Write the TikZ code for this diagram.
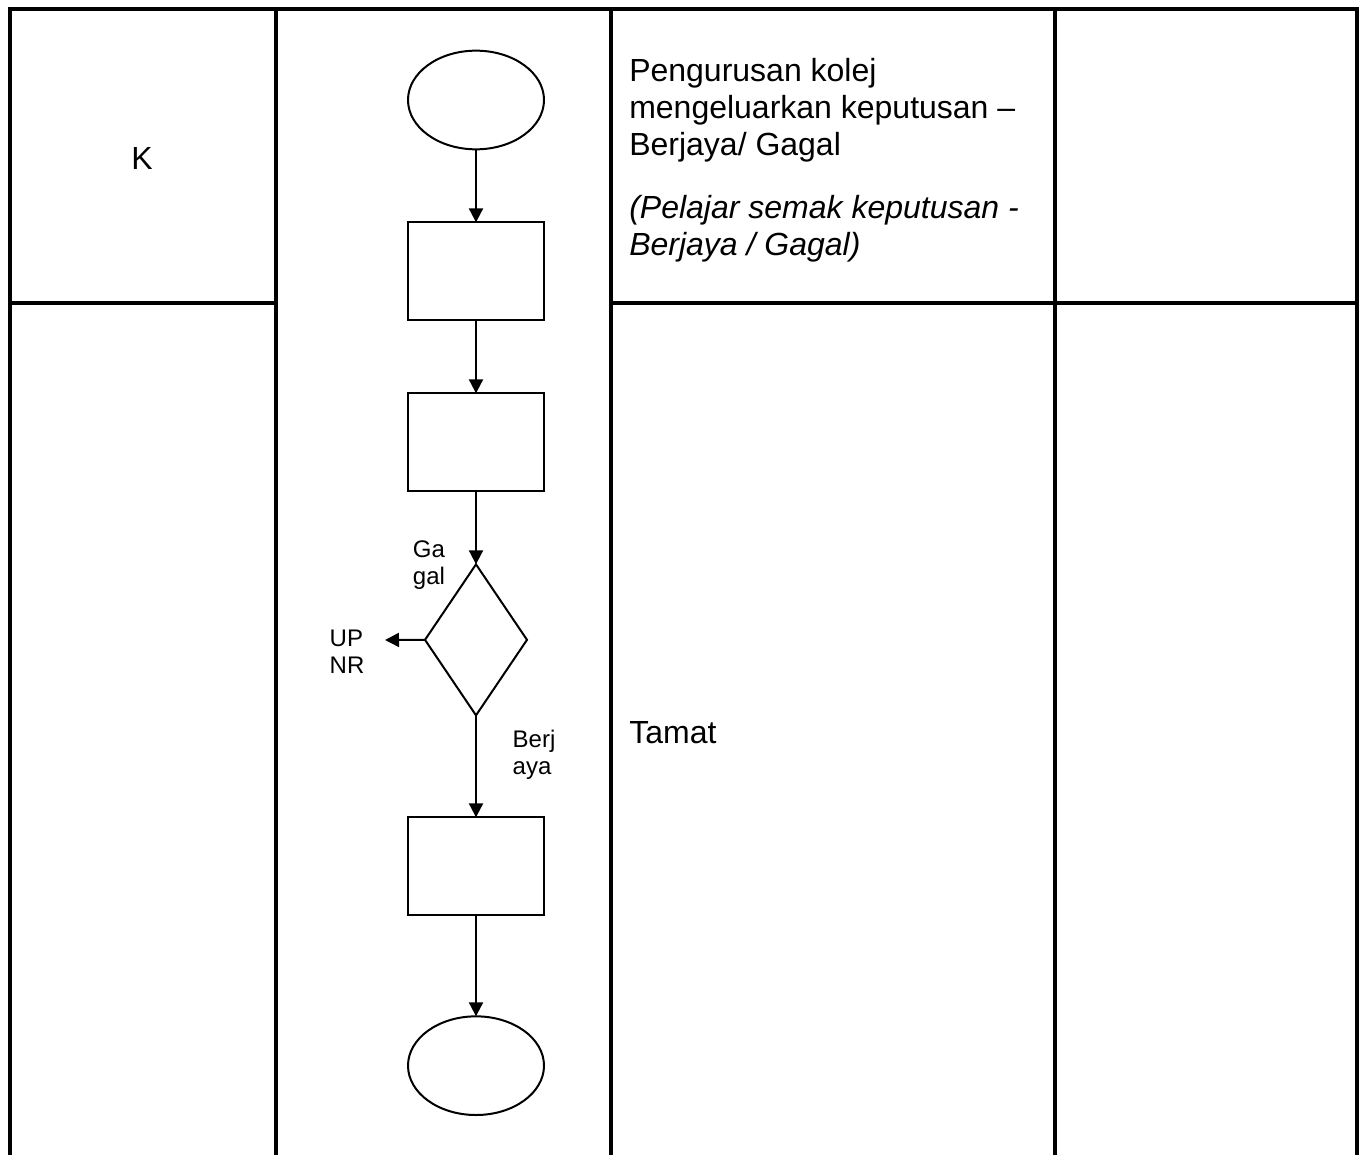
\documentclass[tikz,border=0pt]{standalone}
\usepackage{fontspec}
\setmainfont{Liberation Sans}
\usetikzlibrary{shapes.geometric, arrows.meta, positioning}

\begin{document}
\begin{tikzpicture}[
    x=0.75pt, y=-0.75pt,
    node distance=54.75pt,
    terminal/.style={draw, ellipse, line width=1.5pt, minimum width=102pt, minimum height=74pt, inner sep=0pt, outer sep=0pt},
    process/.style={draw, rectangle, line width=1.5pt, minimum width=102pt, minimum height=73.5pt, inner sep=0pt, outer sep=0pt},
    decision/.style={draw, diamond, line width=1.5pt, minimum width=76.5pt, minimum height=113.25pt, inner sep=0pt, outer sep=0pt},
    arrow/.style={draw, line width=1.5pt, -{Triangle[length=10.5pt, width=10.5pt]}},
    gridline/.style={line width=2.6pt},
    body/.style={inner sep=0pt, align=left, font=\fontsize{24}{27.75}\selectfont},
    tag/.style={inner sep=0pt, align=left, font=\fontsize{18}{20.5}\selectfont}
]
\useasboundingbox (0,0) rectangle (1362,1155);

% table
\draw[gridline] (10,1155) -- (10,9) -- (1357,9) -- (1357,1155);
\draw[gridline] (276,9) -- (276,1155);
\draw[gridline] (611,9) -- (611,1155);
\draw[gridline] (1055,9) -- (1055,1155);
\draw[gridline] (10,303) -- (276,303);
\draw[gridline] (611,303) -- (1357,303);

% flow
\node[terminal] (start) at (476,100) {};
\node[process, below=of start] (semak) {};
\node[process, below=of semak] (keputusan) {};
\node[decision, below=of keputusan] (lulus) {};
\node[process, below=76.5pt of lulus] (berjaya) {};
\node[terminal, below=75.75pt of berjaya] (tamat) {};
\coordinate (upnrtip) at (385,640);

\draw[arrow] (start) -- (semak);
\draw[arrow] (semak) -- (keputusan);
\draw[arrow] (keputusan) -- (lulus);
\draw[arrow] (lulus.west) -- (upnrtip);
\draw[arrow] (lulus) -- (berjaya);
\draw[arrow] (berjaya) -- (tamat);

\node[tag] (gagal) at (429,565) {Ga\\gal};
\node[tag] (upnr) at (347,652) {UP\\NR};
\node[tag] (berj) at (534,755) {Berj\\aya};

% text
\node[body] (pk) at (142,158) {K};
\node[body, anchor=north west] (kolej) at (629,58) {Pengurusan kolej\\mengeluarkan keputusan --\\Berjaya/ Gagal\\[19.5pt]\itshape (Pelajar semak keputusan -\\\itshape Berjaya / Gagal)};
\node[body, anchor=west] (tamatteks) at (629,733) {Tamat};

\end{tikzpicture}
\end{document}
